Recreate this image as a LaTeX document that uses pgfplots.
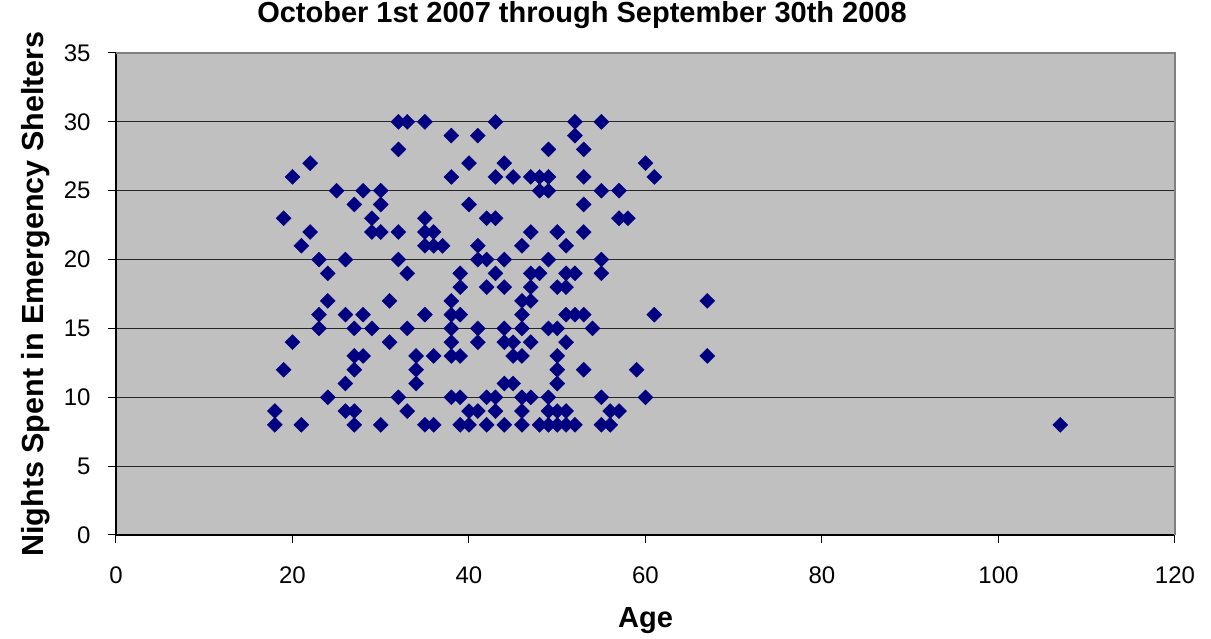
\documentclass[border=0pt]{standalone}
\usepackage{fontspec}
\setmainfont{Liberation Sans}
\usepackage{pgfplots}
\pgfplotsset{compat=1.18}
\definecolor{plotgray}{HTML}{C0C0C0}
\definecolor{bordergray}{HTML}{808080}
\definecolor{navy}{HTML}{000080}

\begin{document}
\begin{tikzpicture}
\begin{axis}[
    scale only axis,
    width=1059pt, height=482pt,
    xmin=0, xmax=120, ymin=0, ymax=35,
    xtick={0,20,...,120},
    ytick={0,5,...,30},
    extra y ticks={35},
    extra y tick style={grid=none},
    axis x line=bottom, axis y line=left,
    axis line style={-, black, line width=1.2pt},
    axis background/.style={fill=plotgray},
    ymajorgrids,
    major grid style={black!85, line width=1.2pt},
    tick align=outside,
    major tick length=8pt,
    tick style={black, line width=1pt},
    /pgf/number format/assume math mode=true,
    tick label style={font=\fontsize{24}{28}\selectfont},
    xticklabel style={yshift=-20pt},
    yticklabel style={xshift=-14pt},
    clip=false,
]
\addplot[only marks, mark=square*, mark size=5.3pt,
    mark options={rotate=45, fill=navy, draw=navy}] table {
x y
18 9
18 8
19 23
19 12
20 26
20 14
21 21
21 8
22 27
22 22
23 20
23 16
23 15
24 19
24 17
24 10
25 25
26 20
26 16
26 11
26 9
27 24
27 15
27 13
27 12
27 9
27 8
28 25
28 16
28 13
29 23
29 22
29 15
30 25
30 24
30 22
30 8
31 17
31 14
32 30
32 28
32 22
32 20
32 10
33 30
33 19
33 15
33 9
34 13
34 12
34 11
35 30
35 23
35 22
35 21
35 16
35 8
36 22
36 21
36 13
36 8
37 21
38 29
38 26
38 17
38 16
38 15
38 14
38 13
38 10
39 19
39 18
39 16
39 13
39 10
39 8
40 27
40 24
40 9
40 8
41 29
41 21
41 20
41 15
41 14
41 9
42 23
42 20
42 18
42 10
42 8
43 30
43 26
43 23
43 19
43 10
43 9
44 27
44 20
44 18
44 15
44 14
44 11
44 8
45 26
45 14
45 13
45 11
46 21
46 17
46 16
46 15
46 13
46 10
46 9
46 8
47 26
47 22
47 19
47 18
47 17
47 14
47 10
48 26
48 25
48 19
48 8
49 28
49 26
49 25
49 20
49 15
49 10
49 9
49 8
50 22
50 18
50 15
50 13
50 12
50 11
50 9
50 8
51 21
51 19
51 18
51 16
51 14
51 9
51 8
52 30
52 29
52 19
52 16
52 8
53 28
53 26
53 24
53 22
53 16
53 12
54 15
55 30
55 25
55 20
55 19
55 10
55 8
56 9
56 8
57 25
57 23
57 9
58 23
59 12
60 27
60 10
61 26
61 16
67 17
67 13
107 8
};
% grey border of the plot area (top and right)
\draw[bordergray, line width=1.5pt] (rel axis cs:0,1) -- (rel axis cs:1,1) -- (rel axis cs:1,0);
\end{axis}
\node[anchor=base, font=\fontsize{29}{34}\selectfont\bfseries]
    at ([shift={(466pt,30pt)}]current axis.north west)
    {October 1st 2007 through September 30th 2008};
\node[anchor=base, rotate=90, font=\fontsize{30.5}{36}\selectfont\bfseries]
    at ([xshift=-72pt]current axis.west) {Nights Spent in Emergency Shelters};
\node[anchor=base, font=\fontsize{29}{34}\selectfont\bfseries]
    at ([yshift=-93pt]current axis.south) {Age};
\pgfresetboundingbox
\path ([shift={(-116pt,-104pt)}]current axis.south west) rectangle ++(1211pt,639pt);
\end{tikzpicture}
\end{document}
